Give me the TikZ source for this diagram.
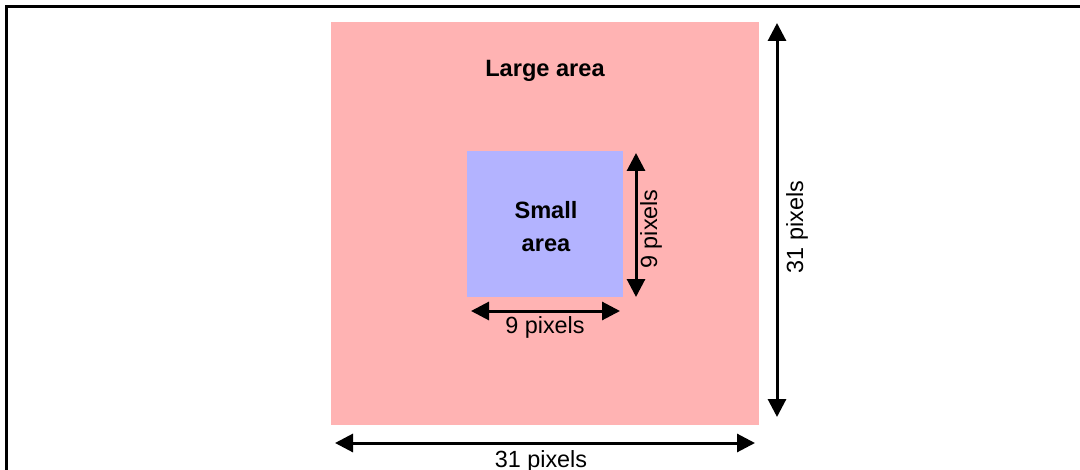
\documentclass[tikz,border=0pt]{standalone}
\usepackage{fontspec}
\setmainfont{Liberation Sans}
\usetikzlibrary{arrows.meta}
\definecolor{largepink}{RGB}{255,179,179}
\definecolor{smallblue}{RGB}{179,179,255}
\begin{document}
\begin{tikzpicture}[x=0.5pt,y=-0.5pt,>={Triangle[length=9pt,width=9pt]},line width=1.5pt,
  font=\fontsize{11.7}{16.5}\selectfont,
  arealabel/.style={font=\fontsize{11.8}{16.5}\selectfont\bfseries,align=center,inner sep=0pt},
  sizelabel/.style={inner sep=0pt}]
  \useasboundingbox (0,0) rectangle (1080,470);

  % Rahmen
  \draw[line width=1.5pt] (6,470) -- (6,7) -- (1080,7);

  % Flaechen
  \fill[largepink] (331,22) rectangle (759,425);
  \fill[smallblue] (467,151) rectangle (623,297);
  \node[arealabel] (large) at (545,71) {Large area};
  \node[arealabel] (small) at (546,227) {Small\\area};

  % Masspfeile grosse Flaeche
  \coordinate (LW) at (335,443);
  \coordinate (LE) at (755,443);
  \coordinate (LN) at (777,23);
  \coordinate (LS) at (777,417);
  \draw[<->] (LW) -- (LE);
  \draw[<->] (LN) -- (LS);
  \node[sizelabel] (largew) at (541,461) {31 pixels};
  \node[sizelabel,rotate=90] (largeh) at (797,227) {31 pixels};

  % Masspfeile kleine Flaeche
  \coordinate (SW) at (471,311);
  \coordinate (SE) at (620,311);
  \coordinate (SN) at (636,153);
  \coordinate (SS) at (636,297);
  \draw[<->] (SW) -- (SE);
  \draw[<->] (SN) -- (SS);
  \node[sizelabel] (smallw) at (545,327) {9 pixels};
  \node[sizelabel,rotate=90] (smallh) at (651,229) {9 pixels};
\end{tikzpicture}
\end{document}
